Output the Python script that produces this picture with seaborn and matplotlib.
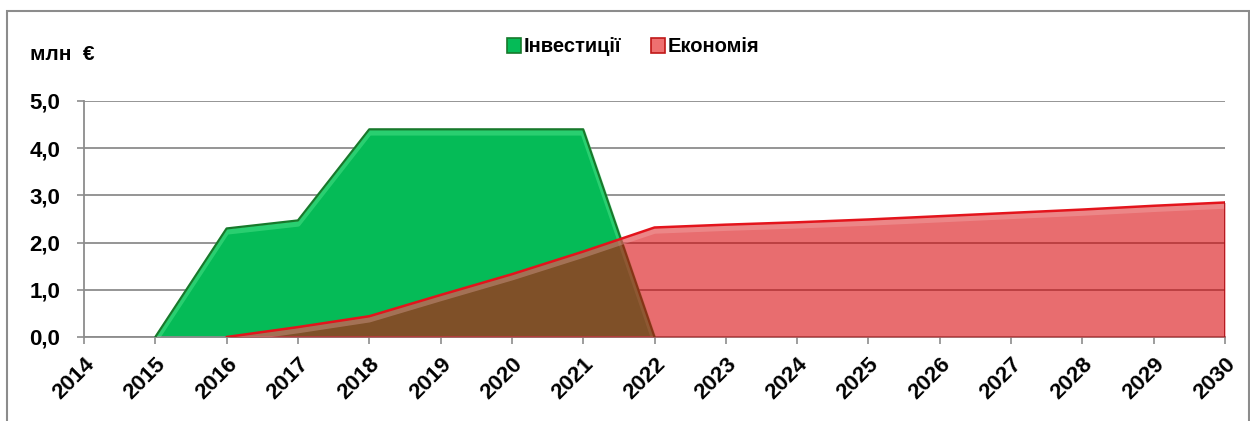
import numpy as np
import pandas as pd
import matplotlib
matplotlib.use("Agg")
import matplotlib.pyplot as plt
from matplotlib.patches import Rectangle, Patch
import matplotlib.patheffects as pe
import seaborn as sns

years = list(range(2014, 2031))
investments = [np.nan, 0.0, 2.3, 2.47, 4.4, 4.4, 4.4, 4.4, 0.0,
               np.nan, np.nan, np.nan, np.nan, np.nan, np.nan, np.nan, np.nan]
savings = [np.nan, np.nan, 0.0, 0.21, 0.44, 0.89, 1.33, 1.81, 2.32,
           2.38, 2.43, 2.49, 2.56, 2.63, 2.70, 2.78, 2.85]
y_ticks = [0, 1, 2, 3, 4, 5]
series_names = ["Інвестиції", "Економія"]
unit_label = "млн  €"

df = pd.DataFrame({"year": years, series_names[0]: investments, series_names[1]: savings})

sns.set_theme(style="white")
plt.rcParams["font.family"] = ["Liberation Sans", "DejaVu Sans"]
plt.rcParams["text.color"] = "black"
plt.rcParams["xtick.color"] = "black"
plt.rcParams["ytick.color"] = "black"

W, H, DPI = 1250, 421, 100
fig = plt.figure(figsize=(W / DPI, H / DPI), dpi=DPI)
ax = fig.add_axes([84 / W, 1 - 337 / H, (1225 - 84) / W, (337 - 101) / H])

green = "#05bb57"
green_edge = "#17792b"
red = "#d80307"
red_line = "#e3141c"

inv = df.dropna(subset=[series_names[0]])
sav = df.dropna(subset=[series_names[1]])

ax.fill_between(inv["year"], 0, inv[series_names[0]], color=green, zorder=2, linewidth=0)
sns.lineplot(data=inv, x="year", y=series_names[0], ax=ax, color=green_edge,
             linewidth=1.6, zorder=3, legend=False)
ax.lines[-1].set_path_effects([
    pe.SimpleLineShadow(offset=(0, -2.5), shadow_color="#6ff5a0", alpha=0.35, linewidth=4),
    pe.Normal()])
ax.fill_between(sav["year"], 0, sav[series_names[1]], color=red, alpha=0.58,
                zorder=4, linewidth=0)
sns.lineplot(data=sav, x="year", y=series_names[1], ax=ax, color=red_line,
             linewidth=1.8, zorder=5, legend=False)
ax.lines[-1].set_path_effects([
    pe.SimpleLineShadow(offset=(0, -2.5), shadow_color="#f7c0c0", alpha=0.3, linewidth=4),
    pe.Normal()])
ax.plot([years[-1], years[-1]], [0, savings[-1]], color="#b01018", lw=2, zorder=5)

ax.set_xlim(years[0], years[-1])
ax.set_ylim(0, 5)
ax.set_yticks(y_ticks)
ax.set_yticklabels([f"{v:.1f}".replace(".", ",") for v in y_ticks],
                   fontsize=16, fontweight="bold")
ax.set_xticks(years)
ax.set_xticklabels([str(y) for y in years], rotation=45, ha="right",
                   rotation_mode="anchor", fontsize=16, fontweight="bold")
ax.set_xlabel("")
ax.set_ylabel("")

ax.set_axisbelow(True)
ax.yaxis.grid(True, color="#8c8c8c", linewidth=1.3, zorder=1)
ax.xaxis.grid(False)
for s in ["top", "right"]:
    ax.spines[s].set_visible(False)
for s in ["left", "bottom"]:
    ax.spines[s].set_color("#8c8c8c")
    ax.spines[s].set_linewidth(1.3)
ax.tick_params(axis="both", which="both", direction="out", length=5, width=1.2,
               color="#8c8c8c", left=True, bottom=True)
ax.tick_params(axis="y", pad=12)
ax.tick_params(axis="x", pad=7)

fig.text(30 / W, 1 - 55 / H, unit_label, fontsize=15, fontweight="bold",
         va="center", ha="left")

handles = [Patch(facecolor=green, edgecolor=green_edge, linewidth=1.2),
           Patch(facecolor="#ee7070", edgecolor="#c01818", linewidth=1.2)]
leg = fig.legend(handles, series_names, loc="center", bbox_to_anchor=(633 / W, 1 - 47 / H),
                 ncol=2, frameon=False, handlelength=0.7, handleheight=0.7,
                 handletextpad=0.1, columnspacing=1.5,
                 prop={"size": 14.5, "weight": "bold"})

fig.patches.append(Rectangle((7 / W, -0.05), (1249 - 7) / W, (1 - 11 / H) + 0.05,
                             transform=fig.transFigure, fill=False,
                             edgecolor="#8c8c8c", linewidth=1.5))

fig.savefig("out.png", dpi=DPI)
